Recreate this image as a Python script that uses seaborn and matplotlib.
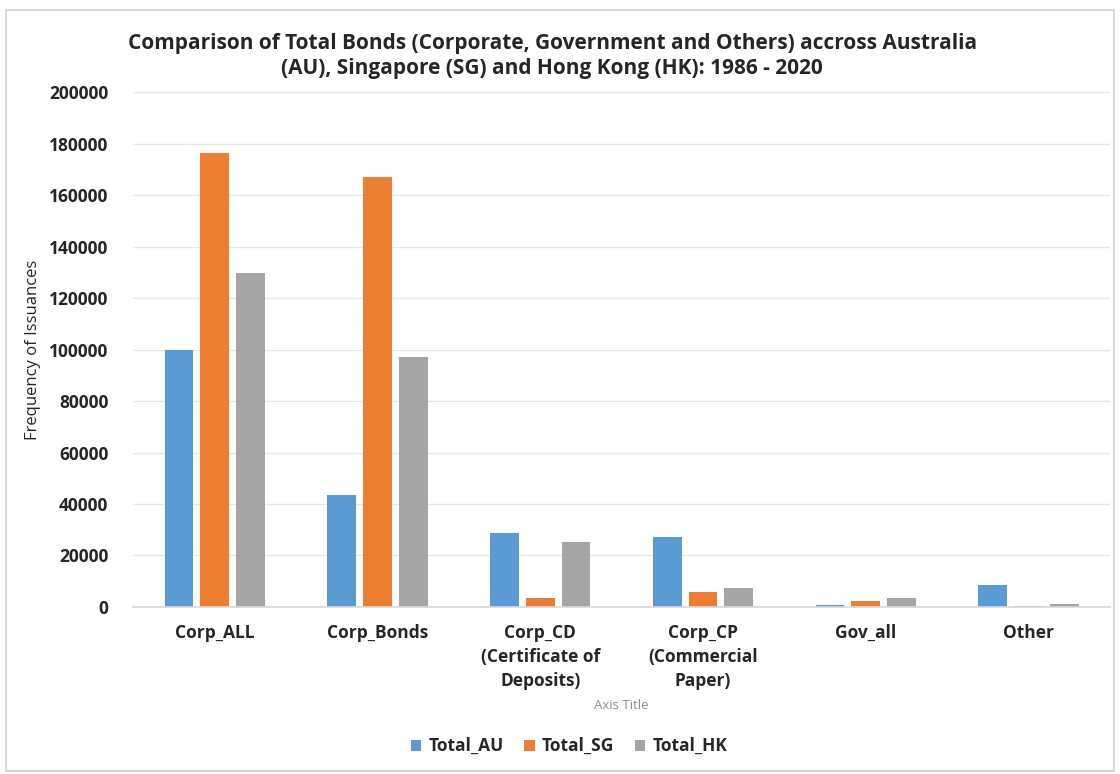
import matplotlib
matplotlib.use("Agg")
import matplotlib.pyplot as plt
import seaborn as sns
import pandas as pd
from matplotlib.patches import Rectangle

categories = ["Corp_ALL", "Corp_Bonds", "Corp_CD\n(Certificate of\nDeposits)",
              "Corp_CP\n(Commercial\nPaper)", "Gov_all", "Other"]
total_au = [100000, 43600, 28900, 27200, 800, 8500]
total_sg = [176500, 167000, 3600, 5700, 2200, 300]
total_hk = [129700, 97000, 25300, 7200, 3500, 1200]
series_names = ["Total_AU", "Total_SG", "Total_HK"]
colors = ["#5B9BD5", "#ED7D31", "#A5A5A5"]
yticks = [0, 20000, 40000, 60000, 80000, 100000, 120000, 140000, 160000, 180000, 200000]

rows = []
for name, vals in zip(series_names, [total_au, total_sg, total_hk]):
    for c, v in zip(categories, vals):
        rows.append({"cat": c, "series": name, "value": v})
df = pd.DataFrame(rows)

sns.set_theme(style="white")
plt.rcParams["font.family"] = ["Open Sans", "DejaVu Sans"]

fig = plt.figure(figsize=(11.2, 7.74), dpi=100)
ax = fig.add_axes([0.119, 0.2158, 0.872, 0.6652])

sns.barplot(data=df, x="cat", y="value", hue="series", order=categories,
            hue_order=series_names, palette=colors, width=0.66, gap=0.2,
            saturation=1, ax=ax, legend=True, linewidth=0)

ax.set_ylim(0, 200000)
ax.set_yticks(yticks)
ax.set_yticklabels([str(t) for t in yticks], fontsize=12.5, fontweight="bold", color="#262626")
ax.set_xlim(-0.5, len(categories) - 0.5)
ax.tick_params(axis="x", labelsize=12.5, colors="#262626", length=0, pad=12)
for lbl in ax.get_xticklabels():
    lbl.set_fontweight("bold")
    lbl.set_linespacing(1.45)
ax.tick_params(axis="y", length=0, pad=18)
ax.yaxis.grid(True, color="#E6E6E6", linewidth=1)
ax.set_axisbelow(True)
for s in ["top", "right", "left"]:
    ax.spines[s].set_visible(False)
ax.spines["bottom"].set_color("#D9D9D9")

ax.set_ylabel("Frequency of Issuances", fontsize=12, color="#262626", labelpad=6)
ax.set_xlabel("Axis Title", fontsize=9.5, color="#8C8C8C", labelpad=6)

fig.suptitle("Comparison of Total Bonds (Corporate, Government and Others) accross Australia\n"
             "(AU), Singapore (SG) and Hong Kong (HK): 1986 - 2020",
             x=0.493, y=0.958, fontsize=15, fontweight="bold", color="#262626",
             linespacing=1.3)

leg = ax.legend(loc="center", ncol=3, frameon=False,
                handlelength=0.6, handleheight=0.6, handletextpad=0.4,
                columnspacing=1.2, prop={"size": 12.5, "weight": "bold"})
leg.set_bbox_to_anchor((0.508, 0.036), transform=fig.transFigure)
for t in leg.get_texts():
    t.set_color("#262626")

fig.patches.append(Rectangle((0.005, 0.004), 0.99, 0.983, transform=fig.transFigure,
                             fill=False, edgecolor="#D0D0D0", linewidth=1.2))

fig.savefig("out.png", dpi=100)
